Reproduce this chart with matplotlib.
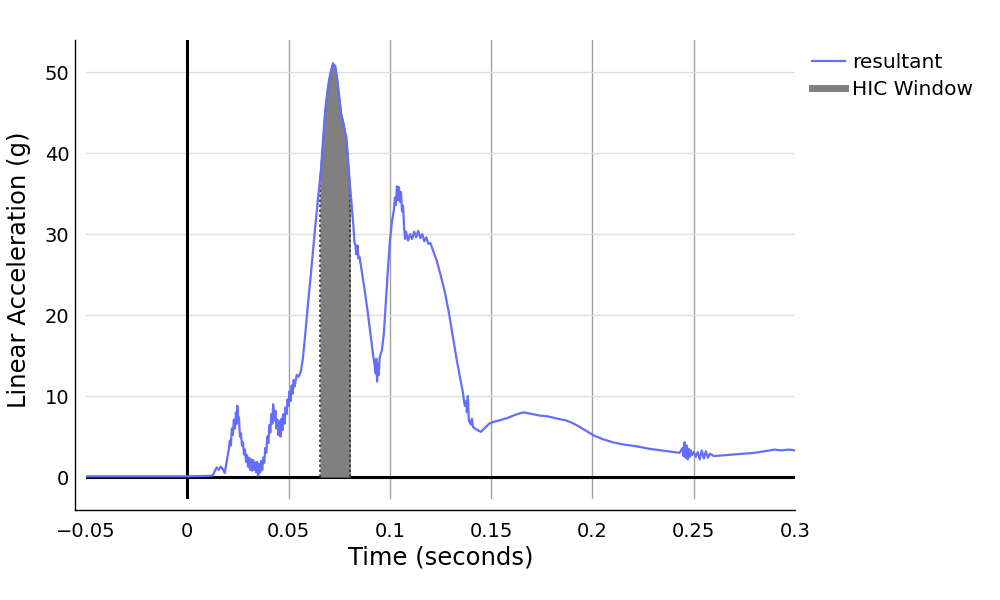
import numpy as np
import matplotlib
matplotlib.use('Agg')
import matplotlib.pyplot as plt
from matplotlib.lines import Line2D

# 時間 (秒) と合成加速度 (g)
time_s = [
    -0.05, 0.0, 0.010, 0.0125, 0.0135, 0.0145, 0.0155, 0.0165, 0.0175, 0.0185,
    0.0195, 0.0205, 0.021, 0.0215, 0.022, 0.0225, 0.023, 0.0235, 0.024, 0.0245,
    0.0247, 0.025, 0.0255, 0.026, 0.0265, 0.027, 0.0275, 0.028, 0.0285, 0.029,
    0.0295, 0.030, 0.0305, 0.031, 0.0315, 0.032, 0.0325, 0.033, 0.0335, 0.034,
    0.0345, 0.035, 0.0355, 0.036, 0.0365, 0.037, 0.0375, 0.038, 0.0385, 0.039,
    0.0395, 0.040, 0.0405, 0.041, 0.0415, 0.042, 0.0424, 0.043, 0.0435, 0.044,
    0.0445, 0.045, 0.0455, 0.046, 0.0465, 0.047, 0.0475, 0.048, 0.0485, 0.049,
    0.0495, 0.050, 0.0505, 0.051, 0.0515, 0.052, 0.0525, 0.053, 0.054, 0.055,
    0.056, 0.057, 0.058, 0.059, 0.060, 0.061, 0.062, 0.063, 0.064, 0.065,
    0.066, 0.067, 0.068, 0.069, 0.070, 0.071, 0.0715, 0.072, 0.0725, 0.073,
    0.074, 0.075, 0.076, 0.077, 0.078, 0.0785, 0.079, 0.080, 0.081, 0.082,
    0.0825, 0.083, 0.0835, 0.084, 0.0845, 0.085, 0.086, 0.087, 0.088, 0.089,
    0.090, 0.091, 0.092, 0.0925, 0.093, 0.0933, 0.0937, 0.094, 0.0945, 0.095,
    0.096, 0.097, 0.098, 0.099, 0.100, 0.101, 0.102, 0.1025, 0.103, 0.1035,
    0.104, 0.1045, 0.105, 0.1055, 0.106, 0.1065, 0.107, 0.1075, 0.108, 0.109,
    0.110, 0.111, 0.112, 0.113, 0.114, 0.115, 0.116, 0.117, 0.118, 0.119,
    0.120, 0.121, 0.123, 0.125, 0.127, 0.129, 0.131, 0.133, 0.135, 0.136,
    0.137, 0.1378, 0.138, 0.1385, 0.139, 0.140, 0.1405, 0.141, 0.142, 0.144,
    0.145, 0.147, 0.149, 0.151, 0.154, 0.158, 0.162, 0.166, 0.170, 0.174,
    0.178, 0.183, 0.187, 0.190, 0.193, 0.197, 0.201, 0.205, 0.210, 0.216,
    0.222, 0.228, 0.234, 0.240, 0.243, 0.2445, 0.245, 0.2455, 0.246, 0.2465,
    0.247, 0.2475, 0.248, 0.2485, 0.249, 0.250, 0.251, 0.252, 0.253, 0.254,
    0.255, 0.256, 0.257, 0.258, 0.260, 0.265, 0.270, 0.275, 0.280, 0.285,
    0.290, 0.293, 0.297, 0.300,
]
resultant = [
    0.1, 0.1, 0.15, 0.2, 0.7, 1.2, 0.9, 1.3, 1.0, 0.5,
    2.0, 3.4, 4.5, 3.9, 6.0, 5.2, 7.1, 6.0, 8.0, 6.6,
    8.8, 6.9, 7.4, 5.0, 5.4, 3.9, 4.3, 2.8, 3.4, 1.9,
    2.7, 1.3, 2.4, 0.9, 2.2, 0.8, 2.1, 0.9, 1.8, 0.6,
    1.9, 0.2, 1.6, 0.6, 2.0, 0.9, 2.4, 1.8, 3.6, 3.0,
    5.0, 4.2, 6.4, 5.5, 7.8, 6.6, 9.0, 7.0, 8.2, 6.0,
    7.1, 5.2, 6.9, 5.0, 7.2, 5.8, 7.8, 6.6, 8.6, 7.8,
    9.6, 8.8, 10.6, 9.4, 11.3, 10.3, 12.0, 11.2, 12.6, 12.4,
    13.0, 14.5, 17.0, 19.8, 22.5, 25.0, 27.8, 30.5, 33.0, 35.5,
    38.0, 41.5, 45.0, 47.3, 49.0, 50.2, 50.7, 51.1, 50.4, 50.8,
    49.2, 47.0, 44.8, 43.8, 42.5, 42.0, 40.5, 37.0, 34.0, 31.0,
    29.0, 28.6, 27.5, 28.6, 27.0, 27.2, 25.6, 24.0, 22.3, 20.5,
    18.5, 16.6, 14.6, 13.8, 12.8, 14.6, 11.8, 14.0, 12.6, 14.8,
    15.6, 17.6, 21.5, 25.5, 29.0, 31.5, 33.0, 34.5, 33.6, 35.9,
    34.2, 35.8, 34.0, 35.2, 32.8, 33.5, 31.0, 29.4, 30.3, 29.2,
    30.0, 29.4, 30.3, 29.6, 30.4, 29.5, 30.0, 29.1, 29.6, 28.8,
    28.9, 28.2, 26.8, 25.0, 23.0, 20.5, 17.5, 14.5, 11.8, 10.5,
    8.8, 9.4, 8.0, 10.0, 7.0, 6.5, 7.2, 6.2, 6.0, 5.7,
    5.6, 6.1, 6.6, 6.8, 7.0, 7.3, 7.7, 8.0, 7.8, 7.6,
    7.5, 7.2, 7.0, 6.7, 6.3, 5.7, 5.1, 4.7, 4.3, 4.0,
    3.8, 3.5, 3.3, 3.1, 3.0, 3.6, 2.6, 4.3, 2.4, 3.9,
    2.2, 3.5, 2.5, 3.3, 2.7, 3.1, 2.5, 3.1, 2.2, 3.3,
    2.3, 3.2, 2.4, 2.9, 2.6, 2.7, 2.8, 2.9, 3.0, 3.2,
    3.4, 3.3, 3.4, 3.3,
]

# HIC の区間
hic_start = 0.0655
hic_end = 0.0805

xticks = [-0.05, 0, 0.05, 0.1, 0.15, 0.2, 0.25, 0.3]
xtick_labels = ['\u22120.05', '0', '0.05', '0.1', '0.15', '0.2', '0.25', '0.3']
yticks = [0, 10, 20, 30, 40, 50]

t = np.array(time_s)
g = np.array(resultant)

fig = plt.figure(figsize=(10, 6), dpi=100)
ax = fig.add_axes([0.086, 0.1683, 0.709, 0.765])
ax.set_xlim(-0.05, 0.3)
ax.set_ylim(-2.7, 53.95)

# グリッド (縦線は濃いめ、横線は薄め)
for v in xticks[2:-1]:
    ax.axvline(v, color='#a0a0a0', lw=1.0, zorder=0)
for v in yticks[1:]:
    ax.axhline(v, color='#dedede', lw=1.0, zorder=0)
ax.axvline(0, color='black', lw=2.2, zorder=1)
ax.axhline(0, color='black', lw=2.2, zorder=1)

# HIC 窓の塗りつぶし
mask = (t > hic_start) & (t < hic_end)
tw = np.concatenate([[hic_start], t[mask], [hic_end]])
gw = np.concatenate([[np.interp(hic_start, t, g)], g[mask], [np.interp(hic_end, t, g)]])
ax.fill_between(tw, 0, gw, color='#808080', lw=0, zorder=2)
ax.plot([hic_start, hic_start], [0, gw[0]], color='#333333', lw=1.2, ls=(0, (1.5, 1.5)), zorder=3)
ax.plot([hic_end, hic_end], [0, gw[-1]], color='#333333', lw=1.2, ls=(0, (1.5, 1.5)), zorder=3)
ax.plot(tw, gw, color='#444444', lw=1.0, zorder=3)

ax.plot(t, g, color='#636efa', lw=1.6, zorder=4)

# 軸
for s in ['top', 'right']:
    ax.spines[s].set_visible(False)
ax.spines['left'].set_position(('outward', 8))
ax.spines['bottom'].set_position(('outward', 8))
ax.spines['left'].set_bounds(-4.07, 53.95)
ax.spines['bottom'].set_bounds(-0.0554, 0.3)
ax.spines['left'].set_linewidth(1.0)
ax.spines['bottom'].set_linewidth(1.0)

ax.set_xticks(xticks)
ax.set_xticklabels(xtick_labels)
ax.set_yticks(yticks)
ax.tick_params(length=0, labelsize=14, pad=4)
ax.tick_params(axis='x', pad=8.5)
ax.set_xlabel('Time (seconds)', fontsize=17.5, labelpad=3)
ax.set_ylabel('Linear Acceleration (g)', fontsize=17.5, labelpad=10)

handles = [Line2D([], [], color='#636efa', lw=1.6),
           Line2D([], [], color='#808080', lw=5)]
fig.legend(handles, ['resultant', 'HIC Window'], loc='upper left',
           bbox_to_anchor=(0.794, 0.942), frameon=False, fontsize=14.5,
           handlelength=1.65, handletextpad=0.35, labelspacing=0.4)

plt.savefig('out.png', dpi=100)
